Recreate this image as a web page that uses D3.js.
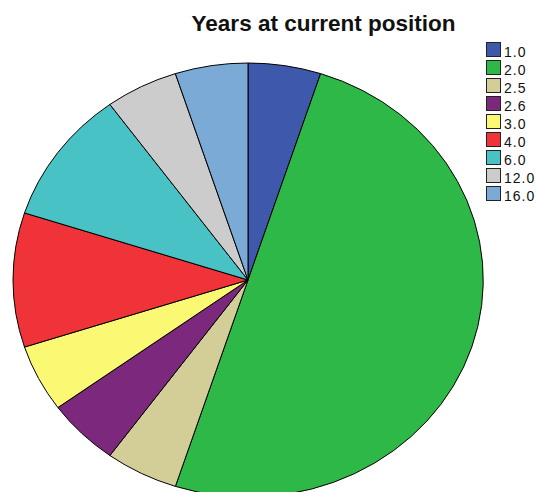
<!DOCTYPE html>
<html>
<head>
<meta charset="utf-8">
<script src="https://cdn.jsdelivr.net/npm/d3@7"></script>
<style>
  body { margin: 0; background: #fff; }
  svg { display: block; font-family: "Liberation Sans", Arial, sans-serif; }
</style>
</head>
<body>
<div id="chart"></div>
<script>
var svgWidth = 536;
var svgHeight = 492;

// data
var categories = ["1.0", "2.0", "2.5", "2.6", "3.0", "4.0", "6.0", "12.0", "16.0"];
var counts = [1, 10, 1, 1, 1, 2, 2, 1, 1];
var colors = ["#3e58ac", "#2eb848", "#d3ce97", "#7c287d", "#fbf873", "#ef3338", "#48c2c5", "#cccccc", "#7aaad5"];

var svg = d3.select("#chart")
  .append("svg")
  .attr("width", svgWidth)
  .attr("height", svgHeight);

// title
svg.append("text")
  .attr("x", 323.5)
  .attr("y", 31)
  .attr("text-anchor", "middle")
  .attr("font-size", "22.5px")
  .attr("font-weight", "bold")
  .attr("fill", "#111")
  .text("Years at current position");

// pie is drawn as an ellipse: radius = ry, stretched horizontally
var cx = 248, cy = 280, rx = 235, ry = 217;

var pie = d3.pie().sort(null).value(d => d.value);
var arc = d3.arc().innerRadius(0).outerRadius(ry);

var data = categories.map((c, i) => ({ label: c, value: counts[i], color: colors[i] }));

var pieGroup = svg.append("g")
  .attr("transform", `translate(${cx}, ${cy}) scale(${rx / ry}, 1)`);

pieGroup.selectAll("path")
  .data(pie(data))
  .enter()
  .append("path")
  .attr("d", arc)
  .attr("fill", d => d.data.color)
  .attr("stroke", "#000")
  .attr("stroke-width", 1)
  .attr("vector-effect", "non-scaling-stroke");

// legend
var legend = svg.append("g")
  .attr("transform", "translate(486, 42)");

var items = legend.selectAll("g")
  .data(data)
  .enter()
  .append("g")
  .attr("transform", (d, i) => `translate(0, ${i * 18})`);

items.append("rect")
  .attr("x", 0.5)
  .attr("y", 0.5)
  .attr("width", 14)
  .attr("height", 14)
  .attr("fill", d => d.color)
  .attr("stroke", "#222")
  .attr("stroke-width", 1);

items.append("text")
  .attr("x", 18)
  .attr("y", 15)
  .attr("font-size", "14px")
  .attr("letter-spacing", "1px")
  .attr("fill", "#111")
  .text(d => d.label);
</script>
</body>
</html>
